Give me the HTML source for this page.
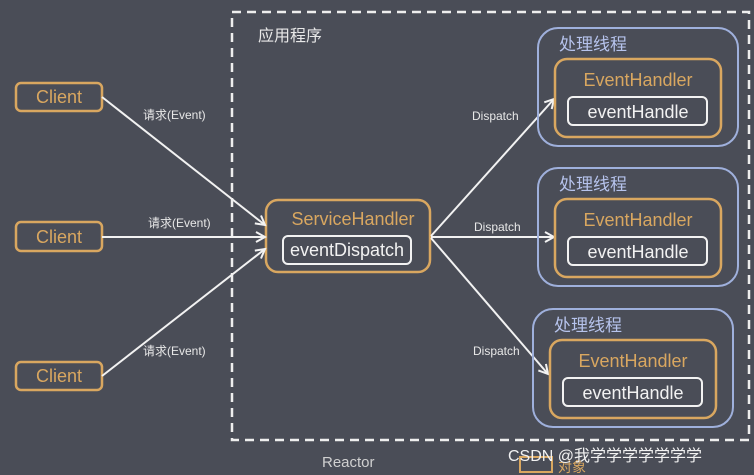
<!DOCTYPE html>
<html><head><meta charset="utf-8"><style>
body{margin:0;background:#4a4d57;}
svg{display:block}
text{font-family:"Liberation Sans","Noto Sans CJK SC",sans-serif;}
</style></head><body>
<svg width="754" height="475" viewBox="0 0 754 475" xmlns="http://www.w3.org/2000/svg">
<rect width="754" height="475" fill="#4a4d57"/>
<defs><marker id="a" markerWidth="12" markerHeight="12" refX="10" refY="6" orient="auto" markerUnits="userSpaceOnUse"><path d="M1,1 L10,6 L1,11" fill="none" stroke="#f2f2f2" stroke-width="2"/></marker></defs>
<rect x="232" y="12" width="517" height="428" fill="none" stroke="#eee" stroke-width="2.5" stroke-dasharray="9,6"/>
<text x="258" y="41" fill="#e8e8e8" font-size="16">应用程序</text>
<g fill="none" stroke="#d9a760" stroke-width="2.5">
<rect x="16" y="83" width="86" height="28" rx="5"/>
<rect x="16" y="222" width="86" height="29" rx="5"/>
<rect x="16" y="362" width="86" height="28" rx="5"/>
<rect x="266" y="200" width="164" height="72" rx="12"/>
</g>
<g fill="#d9a760" font-size="18" text-anchor="middle">
<text x="59" y="103">Client</text><text x="59" y="243">Client</text><text x="59" y="382">Client</text>
<text x="353" y="225">ServiceHandler</text>
</g>
<rect x="283" y="236" width="128" height="28" rx="5" fill="none" stroke="#f2f2f2" stroke-width="2"/>
<text x="347" y="256" fill="#f2f2f2" font-size="18" text-anchor="middle">eventDispatch</text>
<g stroke="#f2f2f2" stroke-width="2" marker-end="url(#a)">
<line x1="102" y1="97" x2="265" y2="225"/>
<line x1="102" y1="237" x2="265" y2="237"/>
<line x1="102" y1="376" x2="265" y2="249"/>
<line x1="431" y1="236" x2="554" y2="99"/>
<line x1="431" y1="237" x2="554" y2="237"/>
<line x1="431" y1="238" x2="548" y2="374"/>
</g>
<g fill="#e8e8e8" font-size="12">
<text x="143" y="119">请求(Event)</text><text x="148" y="227">请求(Event)</text><text x="143" y="355">请求(Event)</text>
<text x="472" y="120">Dispatch</text><text x="474" y="231">Dispatch</text><text x="473" y="355">Dispatch</text>
</g>
<g id="t">
<rect x="538" y="28" width="200" height="118" rx="20" fill="none" stroke="#9fb0dc" stroke-width="2"/>
<rect x="555" y="59" width="166" height="78" rx="12" fill="none" stroke="#d9a760" stroke-width="2.5"/>
<rect x="568" y="97" width="139" height="28" rx="5" fill="none" stroke="#f2f2f2" stroke-width="2"/>
<text x="559" y="50" fill="#b6c3ec" font-size="17">处理线程</text>
<text x="638" y="86" fill="#d9a760" font-size="18" text-anchor="middle">EventHandler</text>
<text x="638" y="118" fill="#f2f2f2" font-size="18" text-anchor="middle">eventHandle</text>
</g>
<use href="#t" y="140"/>
<use href="#t" x="-5" y="281"/>
<text x="322" y="467" fill="#d0d0d0" font-size="15">Reactor</text>
<rect x="520" y="457" width="32" height="15" fill="none" stroke="#d9a760" stroke-width="2"/>
<text x="558" y="472" fill="#d9a760" font-size="14">对象</text>
<text x="508" y="461" fill="#f2f2f2" font-size="16">CSDN @我学学学学学学学</text>
</svg>
</body></html>
